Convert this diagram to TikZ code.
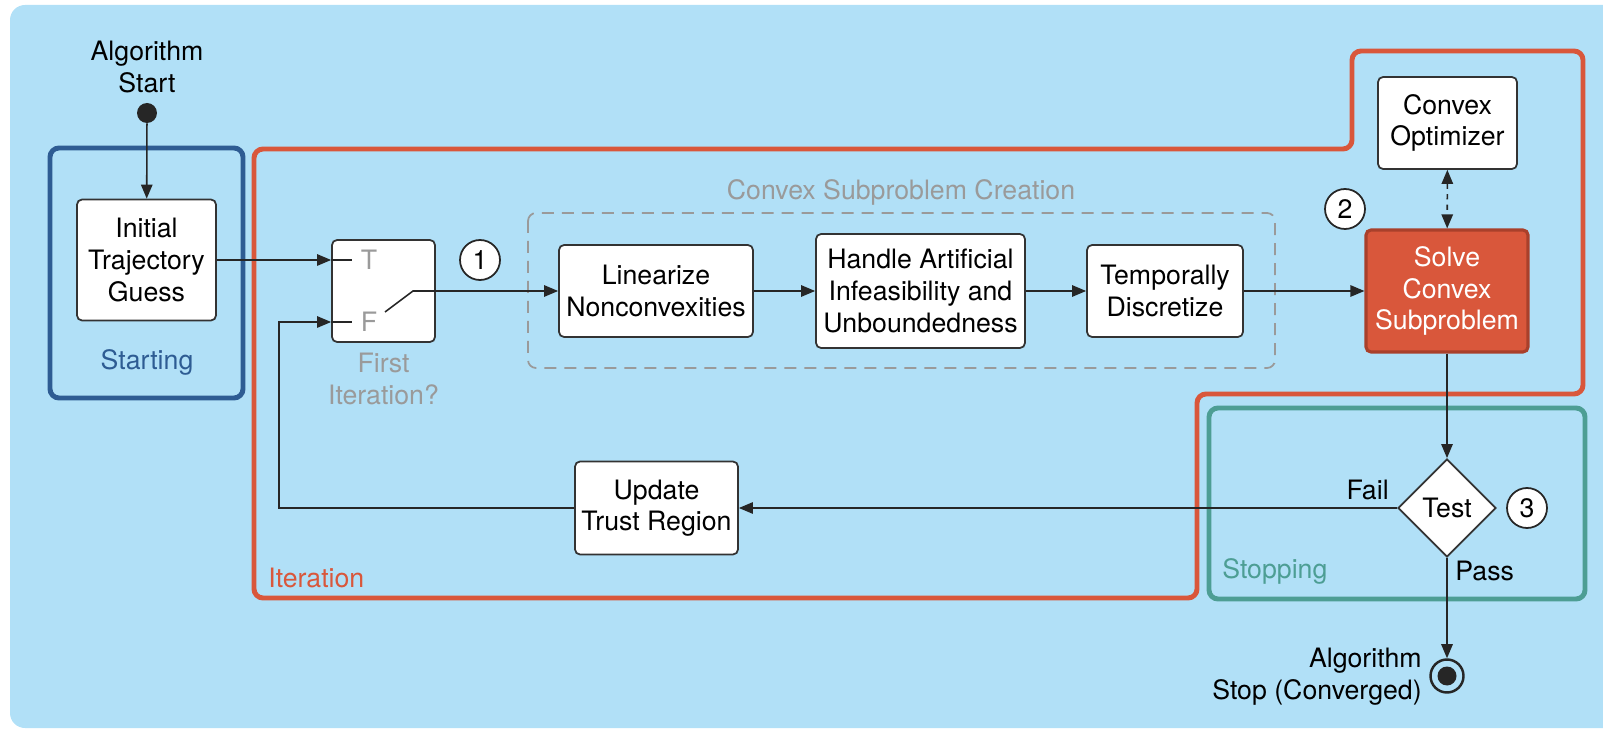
\documentclass[tikz,border=0pt]{standalone}
\usepackage{fontspec}
\setmainfont{TeX Gyre Heros}
\usepackage{xcolor}
\usetikzlibrary{calc, arrows.meta, shapes.geometric}

\definecolor{bgblue}{HTML}{B1E0F7}
\definecolor{iterred}{HTML}{D9573B}
\definecolor{solvedark}{HTML}{A9402B}
\definecolor{startblue}{HTML}{2E5C93}
\definecolor{stopteal}{HTML}{4D9E94}
\definecolor{labelgray}{HTML}{9A9A9A}
\definecolor{boxline}{HTML}{333333}

\begin{document}
\begin{tikzpicture}[x=0.02cm, y=-0.02cm, font=\fontsize{15.2}{18}\selectfont,
		block/.style = {draw=boxline, fill=white, line width=1pt, rounded corners=0.1cm, align=center, inner sep=0pt},
		groupframe/.style = {line width=2.8pt, rounded corners=0.18cm},
		flow/.style = {line width=0.9pt, draw=black!85, -{Triangle[length=8pt, width=6.5pt]}},
		numbered/.style = {circle, draw=black!85, fill=white, line width=1pt, minimum size=0.8cm, inner sep=0pt},
		plainlabel/.style = {inner sep=0pt}]
		\def\switchgap{31};
		\def\switchlead{21};
		\def\loopback{52};
		
		\useasboundingbox (0,0) rectangle (1603,729);
		\begin{scope}
			\clip (0,0) rectangle (1603,729);
			\fill [bgblue, rounded corners=0.3cm] (10,5) rectangle (1660,728);
		\end{scope}
		
		%groups
		\draw [groupframe, startblue] (50,148) rectangle (243,398);
		\draw [groupframe, iterred] (254,149) -- (254,598) -- (1197,598) -- (1197,394) -- (1583,394) -- (1583,51) -- (1352,51) -- (1352,149) -- cycle;
		\draw [groupframe, stopteal] (1209,408) rectangle (1585,599);
		\draw [labelgray, line width=1pt, dash pattern=on 0.24cm off 0.16cm, rounded corners=0.16cm] (528,213) rectangle (1275,368);
		
		\node [plainlabel, anchor=base, text=startblue] (starting label) at (147,370) {Starting};
		\node [plainlabel, anchor=base west, text=iterred] (iteration label) at (268,587) {Iteration};
		\node [plainlabel, anchor=base west, text=stopteal] (stopping label) at (1222,578) {Stopping};
		\node [plainlabel, anchor=base, text=labelgray] (creation label) at (901,200) {Convex Subproblem Creation};
		
		%blocks
		\node [plainlabel, anchor=north, align=center] (start label) at (147,41) {Algorithm\\Start};
		\node [circle, fill=black!85, minimum size=0.4cm, inner sep=0pt] (start) at (147,113) {};
		\node [block, minimum width=2.78cm, minimum height=2.42cm] (guess) at (146.5,260) {Initial\\Trajectory\\Guess};
		\node [block, minimum width=2.06cm, minimum height=2.04cm] (first) at (383.5,291) {};
		\node [plainlabel, anchor=north, align=center, text=labelgray] (first label) at (383.5,353) {First\\Iteration?};
		\node [block, minimum width=3.88cm, minimum height=1.84cm] (linearize) at (656,291) {Linearize\\Nonconvexities};
		\node [block, minimum width=4.18cm, minimum height=2.28cm] (handle) at (920.5,291) {Handle Artificial\\Infeasibility and\\Unboundedness};
		\node [block, minimum width=3.12cm, minimum height=1.84cm] (discretize) at (1165,291) {Temporally\\Discretize};
		\node [block, fill=iterred, draw=solvedark, line width=1.8pt, text=white, minimum width=3.24cm, minimum height=2.44cm] (solve) at (1447,291) {Solve\\Convex\\Subproblem};
		\node [block, minimum width=2.78cm, minimum height=1.84cm] (optimizer) at (1447.5,123) {Convex\\Optimizer};
		\node [block, minimum width=3.26cm, minimum height=1.86cm] (update) at (656.5,508) {Update\\Trust Region};
		\node [diamond, draw=boxline, fill=white, line width=1pt, minimum size=1.96cm, inner sep=0pt] (test) at (1447,508) {Test};
		\node [circle, draw=black!85, line width=1.4pt, minimum size=0.66cm, inner sep=0pt] (stop) at (1447,676) {};
		\node [circle, fill=black!85, minimum size=0.38cm, inner sep=0pt] (stop dot) at (stop) {};
		\node [plainlabel, anchor=north east, align=right] (stop label) at (1422,648) {Algorithm\\Stop (Converged)};
		
		%switch
		\coordinate (T in) at ($ (first.west) + (0,-\switchgap) $);
		\coordinate (F in) at ($ (first.west) + (0,\switchgap) $);
		\coordinate (switch pivot) at (385,312);
		\coordinate (switch top) at (413,291);
		\node [text=labelgray] (T label) at ($ (T in) + (38,0) $) {T};
		\node [text=labelgray] (F label) at ($ (F in) + (38,0) $) {F};
		\draw [line width=0.9pt, black!85] (T in) -- ++(\switchlead,0);
		\draw [line width=0.9pt, black!85] (F in) -- ++(\switchlead,0);
		
		\node [numbered] (step one) at (480,260) {1};
		\node [numbered] (step two) at (1345,209) {2};
		\node [numbered] (step three) at (1527,508) {3};
		
		%connectors
		\draw [flow] (start) -- (guess);
		\draw [flow] (guess.east) -- (T in);
		\draw [flow] (switch pivot) -- (switch top) -- (linearize.west);
		\draw [flow] (linearize) -- (handle);
		\draw [flow] (handle) -- (discretize);
		\draw [flow] (discretize) -- (solve);
		\draw [line width=0.9pt, black!85, dashed, {Triangle[length=8pt, width=6.5pt]}-{Triangle[length=8pt, width=6.5pt]}] (optimizer) -- (solve);
		\draw [flow] (solve) -- (test);
		\draw [flow] (test) -- (update);
		\node [plainlabel, anchor=base east] (fail label) at (1389,500) {Fail};
		\draw [flow] (update.west) -| ($ (F in) + (-\loopback,0) $) -- (F in);
		\draw [flow] (test) -- (stop);
		\node [plainlabel, anchor=base west] (pass label) at (1455,580) {Pass};
	\end{tikzpicture}
\end{document}
